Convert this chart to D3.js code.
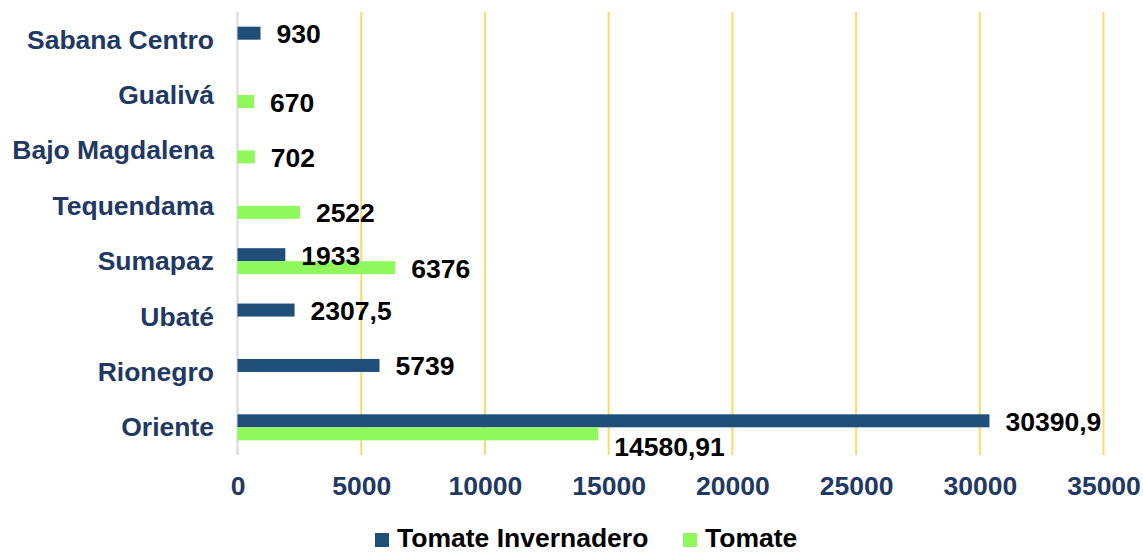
<!DOCTYPE html>
<html>
<head>
<meta charset="utf-8">
<script src="https://cdn.jsdelivr.net/npm/d3@7"></script>
<style>
  html, body { margin: 0; padding: 0; background: #fff; }
  svg { display: block; font-family: "Liberation Sans", Arial, sans-serif; font-weight: bold; }
</style>
</head>
<body>
<svg id="chart" width="1143" height="552"></svg>
<script>
const categories = ["Sabana Centro", "Gualivá", "Bajo Magdalena", "Tequendama", "Sumapaz", "Ubaté", "Rionegro", "Oriente"];
const seriesNames = ["Tomate Invernadero", "Tomate"];
const invernadero = [930, null, null, null, 1933, 2307.5, 5739, 30390.9];
const tomate = [null, 670, 702, 2522, 6376, null, null, 14580.91];
const tickValues = [0, 5000, 10000, 15000, 20000, 25000, 30000, 35000];
const colors = ["#1F4E79", "#8FF85A"];

const FS = 26.5;
const svg = d3.select("#chart");
const m = { left: 237.5, right: 1103.5, top: 12, bottom: 455 };

const x = d3.scaleLinear().domain([0, 35000]).range([m.left, m.right]);
const y = d3.scaleBand().domain(categories).range([m.top, m.bottom]).padding(0);
const sub = d3.scaleBand().domain(seriesNames).range([-13, 13]);

// gridlines
svg.append("g").selectAll("line")
  .data(tickValues.filter(d => d > 0))
  .join("line")
  .attr("x1", d => x(d)).attr("x2", d => x(d))
  .attr("y1", m.top).attr("y2", m.bottom)
  .attr("stroke", "#FFD966").attr("stroke-width", 2);

// vertical axis line
svg.append("line")
  .attr("x1", x(0)).attr("x2", x(0))
  .attr("y1", m.top).attr("y2", m.bottom)
  .attr("stroke", "#D9D9D9").attr("stroke-width", 2);

// bars
const rows = [];
categories.forEach((c, i) => {
  [invernadero, tomate].forEach((arr, s) => {
    if (arr[i] != null) rows.push({ cat: c, s, name: seriesNames[s], v: arr[i] });
  });
});

svg.append("g").selectAll("rect")
  .data(rows)
  .join("rect")
  .attr("x", x(0))
  .attr("y", d => y(d.cat) + y.bandwidth() / 2 + sub(d.name))
  .attr("width", d => x(d.v) - x(0))
  .attr("height", sub.bandwidth())
  .attr("fill", d => colors[d.s]);

// data labels
const fmt = v => String(v).replace(".", ",");
svg.append("g").selectAll("text")
  .data(rows)
  .join("text")
  .attr("x", d => x(d.v) + 16)
  .attr("y", d => {
    let yy = y(d.cat) + y.bandwidth() / 2 + sub(d.name) + sub.bandwidth() / 2 + 10;
    // Oriente Tomate label sits lower in the original (avoids overlap)
    if (d.cat === "Oriente" && d.s === 1) yy += 12;
    return yy;
  })
  .attr("font-size", FS)
  .attr("fill", "#000")
  .text(d => fmt(d.v));

// category labels
svg.append("g").selectAll("text")
  .data(categories)
  .join("text")
  .attr("x", 214)
  .attr("y", d => y(d) + y.bandwidth() / 2 + 9)
  .attr("text-anchor", "end")
  .attr("font-size", FS)
  .attr("fill", "#1F3864")
  .text(d => d);

// x axis
const xAxis = svg.append("g")
  .attr("transform", `translate(0,${m.bottom})`)
  .call(d3.axisBottom(x).tickValues(tickValues).tickFormat(d3.format("d")).tickSize(0));
xAxis.select(".domain").remove();
xAxis.selectAll("text")
  .attr("y", 40).attr("dy", null)
  .attr("font-size", FS)
  .attr("font-family", "Liberation Sans, Arial, sans-serif")
  .attr("font-weight", "bold")
  .attr("fill", "#1F3864");

// legend
const legendX = [375, 683];
const lg = svg.append("g").selectAll("g")
  .data(seriesNames)
  .join("g")
  .attr("transform", (d, i) => `translate(${legendX[i]},533)`);
lg.append("rect").attr("width", 14).attr("height", 14).attr("fill", (d, i) => colors[i]);
lg.append("text").attr("x", 22).attr("y", 14).attr("font-size", FS).attr("fill", "#000").text(d => d);
</script>
</body>
</html>
